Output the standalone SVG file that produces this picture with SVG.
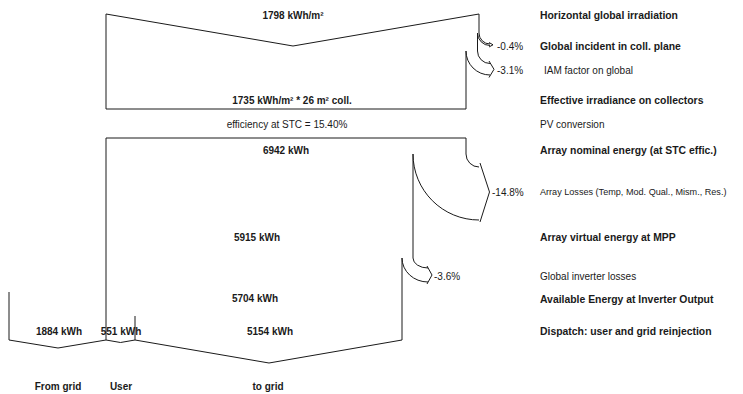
<svg xmlns="http://www.w3.org/2000/svg" width="743" height="394" viewBox="0 0 743 394">
<style>
  .flow { fill: none; stroke: #1a1a1a; stroke-width: 1; }
  .val { font-family: "Liberation Sans", Arial, sans-serif; font-size: 10px; font-weight: bold; fill: #1a1a1a; text-anchor: middle; }
  .lb { font-family: "Liberation Sans", Arial, sans-serif; font-size: 10.4px; font-weight: bold; fill: #1a1a1a; }
  .ln { font-family: "Liberation Sans", Arial, sans-serif; font-size: 10px; fill: #1a1a1a; }
  .pct { font-family: "Liberation Sans", Arial, sans-serif; font-size: 10px; fill: #1a1a1a; }
</style>
<rect width="743" height="394" fill="#ffffff"/>

<g id="irradiation">
  <path class="flow" d="M490,44 A11,11 0 0 1 479,33 L479,14 L293,46 L106,14 L106,109 L466,109 L466,51 A24,24 0 0 0 490,75"/>
  <text class="val" x="293" y="18.5">1798 kWh/m²</text>
  <text class="val" x="292" y="103.5">1735 kWh/m² * 26 m² coll.</text>
</g>

<text class="ln" x="287" y="127.5" text-anchor="middle">efficiency at STC = 15.40%</text>

<g id="array">
  <path class="flow" d="M106,340 L106,138 L466,138 L466,154 A13,13 0 0 0 479,167"/>
  <path class="flow" d="M479,220 A66,66 0 0 1 413,154 L413,258 A15,10 0 0 0 428,268"/>
  <path class="flow" d="M428,282 A26,24 0 0 1 402,258 L402,340"/>
  <text class="val" x="286" y="153.5">6942 kWh</text>
  <text class="val" x="257" y="240.5">5915 kWh</text>
  <text class="val" x="255" y="301.5">5704 kWh</text>
</g>

<g id="from-grid">
  <path class="flow" d="M9,292 L9,340 L58,348 L106,340"/>
  <text class="val" x="59" y="334.5">1884 kWh</text>
  <text class="val" x="58" y="389.5">From grid</text>
</g>

<g id="user">
  <path class="flow" d="M106,340 L120.5,342.5 L135,340 M135,316 L135,340"/>
  <text class="val" x="121" y="334.5">551 kWh</text>
  <text class="val" x="121" y="389.5">User</text>
</g>

<g id="to-grid">
  <path class="flow" d="M135,340 L269,363 L402,340"/>
  <text class="val" x="270" y="334.5">5154 kWh</text>
  <text class="val" x="268" y="389.5">to grid</text>
</g>

<g id="connectors">
  <path class="flow" d="M490,45.5 A12.5,12.5 0 0 1 477.5,33 L477.5,51 A12.5,12.5 0 0 0 490,63.5"/>
  <polyline class="flow" points="489,42.5 493,44.8 489,47"/>
  <polyline class="flow" points="489,61 494,69.3 489,77.5"/>
  <polyline class="flow" points="480,163 489.5,192 480,222"/>
  <polyline class="flow" points="427,266 432,275 427,284"/>
</g>

<g id="loss-labels">
  <text class="pct" x="497" y="49.5">-0.4%</text>
  <text class="pct" x="497" y="73.5">-3.1%</text>
  <text class="pct" x="492" y="195.5">-14.8%</text>
  <text class="pct" x="434" y="279.5">-3.6%</text>
</g>

<g id="legend">
  <text class="lb" x="540" y="18.5">Horizontal global irradiation</text>
  <text class="lb" x="540" y="49.5">Global incident in coll. plane</text>
  <text class="ln" x="544" y="73.5">IAM factor on global</text>
  <text class="lb" x="540" y="103.5">Effective irradiance on collectors</text>
  <text class="ln" x="540" y="127.5">PV conversion</text>
  <text class="lb" x="540" y="153.5">Array nominal energy (at STC effic.)</text>
  <text class="ln" x="540" y="195.3" style="font-size:9.1px">Array Losses (Temp, Mod. Qual., Mism., Res.)</text>
  <text class="lb" x="540" y="240.5">Array virtual energy at MPP</text>
  <text class="ln" x="540" y="279.5">Global inverter losses</text>
  <text class="lb" x="540" y="302.5">Available Energy at Inverter Output</text>
  <text class="lb" x="540" y="334.5">Dispatch: user and grid reinjection</text>
</g>
</svg>
